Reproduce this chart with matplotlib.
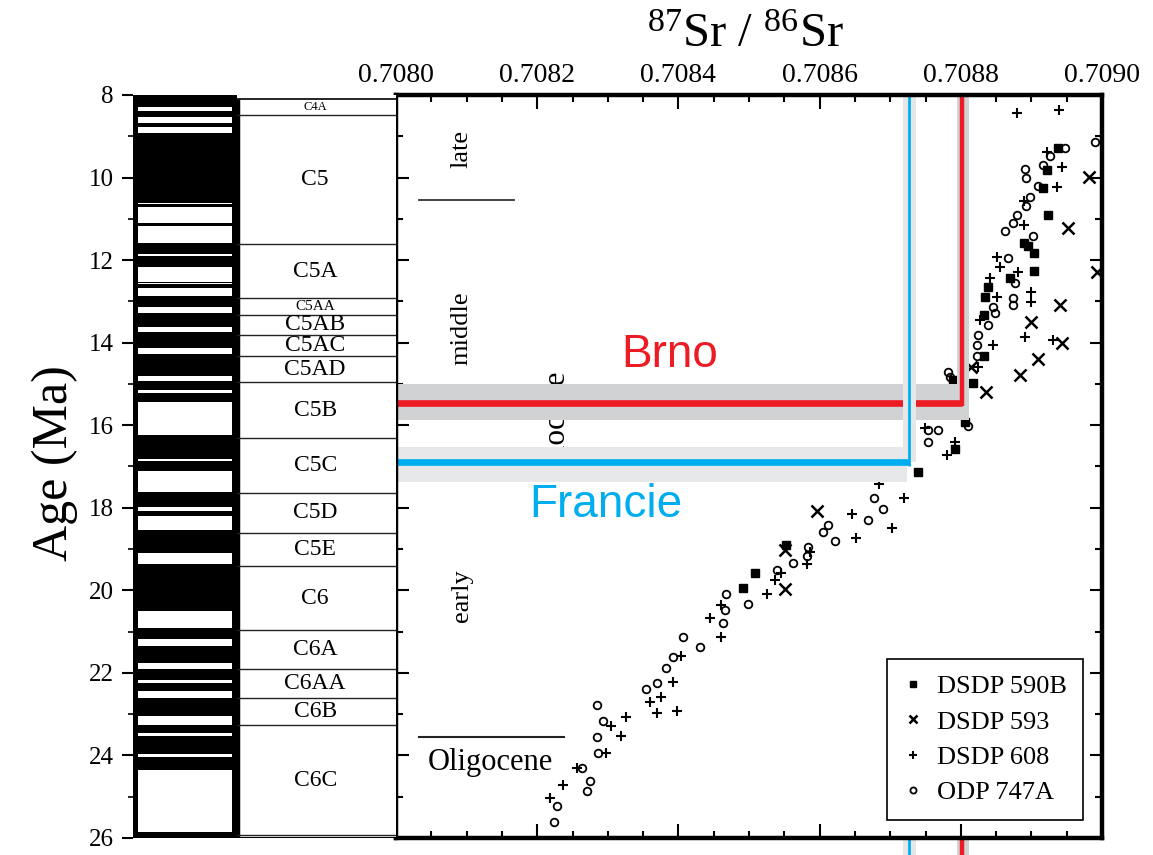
import matplotlib
matplotlib.use("Agg")
import matplotlib.pyplot as plt
from matplotlib.patches import Rectangle
from matplotlib.ticker import MultipleLocator, FormatStrFormatter

SERIF = "Liberation Serif"
SANS = "Liberation Sans"
plt.rcParams["font.family"] = [SERIF, "DejaVu Serif"]
plt.rcParams["mathtext.fontset"] = "custom"
plt.rcParams["mathtext.rm"] = SERIF

# ---- seawater 87Sr/86Sr records (ratio, age in Ma) ----
sr_590b = [0.708938, 0.708922, 0.708917, 0.708924, 0.708889, 0.708895, 0.708904,
           0.708904, 0.708870, 0.708838, 0.708834, 0.708833, 0.708833, 0.708817,
           0.708789, 0.708806, 0.708792, 0.708740, 0.708553, 0.708509, 0.708492]
age_590b = [9.29, 9.82, 10.26, 10.91, 11.59, 11.67, 11.83, 12.26, 12.44, 12.64,
            12.89, 13.33, 14.32, 14.98, 14.90, 15.91, 16.58, 17.13, 18.90, 19.57, 19.95]

sr_593 = [0.708982, 0.708952, 0.708993, 0.708941, 0.708900, 0.708944, 0.708910,
          0.708884, 0.708815, 0.708836, 0.708596, 0.708551, 0.708551]
age_593 = [9.98, 11.23, 12.28, 13.09, 13.49, 14.02, 14.40, 14.78, 14.58, 15.19,
           18.09, 19.02, 19.97]

sr_608 = [0.708879, 0.708939, 0.708922, 0.708944, 0.708936, 0.708889, 0.708889,
          0.708851, 0.708856, 0.708881, 0.708841, 0.708900, 0.708900, 0.708851,
          0.708827, 0.708891, 0.708931, 0.708845, 0.708825, 0.708749, 0.708792,
          0.708780, 0.708719, 0.708684, 0.708646, 0.708702, 0.708652, 0.708586,
          0.708582, 0.708546, 0.708537, 0.708525, 0.708461, 0.708445, 0.708460,
          0.708404, 0.708393, 0.708375, 0.708360, 0.708369, 0.708398, 0.708304,
          0.708326, 0.708319, 0.708298, 0.708256, 0.708237, 0.708218]
age_608 = [8.44, 8.36, 9.37, 9.75, 10.22, 10.58, 11.15, 11.92, 12.16, 12.30, 12.44,
           12.77, 13.01, 12.89, 13.45, 13.87, 13.94, 14.06, 14.59, 16.07, 16.40,
           16.72, 17.77, 17.42, 18.16, 18.50, 18.74, 19.06, 19.36, 19.59, 19.75,
           20.09, 20.36, 20.68, 21.12, 21.59, 22.21, 22.59, 22.71, 22.96, 22.92,
           23.29, 23.08, 23.53, 23.93, 24.31, 24.72, 25.04]

sr_747a = [0.708990, 0.708948, 0.708926, 0.708916, 0.708891, 0.708893, 0.708910,
           0.708898, 0.708893, 0.708879, 0.708874, 0.708863, 0.708902, 0.708867,
           0.708877, 0.708874, 0.708874, 0.708848, 0.708846, 0.708839, 0.708825,
           0.708823, 0.708823, 0.708782, 0.708785, 0.708810, 0.708754, 0.708768,
           0.708753, 0.708677, 0.708690, 0.708669, 0.708612, 0.708605, 0.708622,
           0.708584, 0.708582, 0.708563, 0.708539, 0.708499, 0.708468, 0.708466,
           0.708463, 0.708431, 0.708407, 0.708393, 0.708383, 0.708369, 0.708354,
           0.708284, 0.708293, 0.708284, 0.708286, 0.708263, 0.708275, 0.708270,
           0.708228, 0.708224]
age_747a = [9.13, 9.29, 9.48, 9.70, 9.80, 10.02, 10.20, 10.46, 10.69, 10.91, 11.11,
            11.29, 11.42, 11.96, 12.56, 12.92, 13.09, 13.29, 13.13, 13.57, 13.81,
            14.06, 14.32, 14.70, 14.83, 16.02, 16.12, 16.12, 16.40, 17.77, 18.04,
            18.30, 18.42, 18.58, 18.80, 18.94, 19.18, 19.33, 19.51, 20.34, 20.09,
            20.48, 20.80, 21.38, 21.12, 21.62, 21.89, 22.25, 22.39, 22.78, 23.16,
            23.55, 23.93, 24.31, 24.63, 24.85, 25.22, 25.62]

# ---- sample sites: ratio, age, age band ----
brno_sr, brno_age, brno_band = 0.708802, 15.45, (15.00, 15.87)
brno_sr_band = (0.708795, 0.708811)
francie_sr, francie_age, francie_band = 0.708727, 16.90, (16.52, 17.37)
francie_sr_band = (0.708718, 0.708736)

# ---- magnetic polarity (reversed intervals, Ma) and chrons ----
rev_top = [8.28, 8.53, 8.77, 10.61, 10.72, 11.17, 11.85, 12.16, 12.55, 12.68, 13.13,
           13.61, 14.14, 14.81, 15.15, 15.43, 16.82, 17.12, 17.97, 18.21, 19.10,
           20.51, 21.19, 21.75, 22.17, 22.45, 23.04, 23.46, 23.96, 24.35]
rev_base = [8.38, 8.69, 8.93, 10.64, 11.11, 11.59, 11.90, 12.52, 12.58, 12.88, 13.29,
            13.75, 14.27, 14.94, 15.23, 16.24, 16.87, 17.61, 18.07, 18.55, 19.36,
            20.92, 21.36, 21.91, 22.25, 22.60, 23.26, 23.54, 24.04, 25.85]
chron_names = ["C4A", "C5", "C5A", "C5AA", "C5AB", "C5AC", "C5AD", "C5B", "C5C",
               "C5D", "C5E", "C6", "C6A", "C6AA", "C6B", "C6C"]
chron_bounds = [8.10, 8.48, 11.62, 12.93, 13.33, 13.81, 14.32, 14.96, 16.32, 17.65,
                18.60, 19.42, 20.96, 21.91, 22.60, 23.27, 25.93]
chron_sizes = [9, 17, 17, 11, 17, 17, 17, 17, 17, 17, 17, 17, 17, 17, 17, 17]

x_ticks = [0.7080, 0.7082, 0.7084, 0.7086, 0.7088, 0.7090]
age_min, age_max = 8, 26

RED = "#ed1c24"
BLUE = "#00aeef"
GRAY_BRNO = "#d1d2d4"
GRAY_FRANCIE = "#e6e7e8"

W, H = 1153, 855
fig = plt.figure(figsize=(W / 100, H / 100), dpi=100)


def box(l, t, r, b):
    return [l / W, 1 - b / H, (r - l) / W, (b - t) / H]


ax = fig.add_axes(box(396, 95, 1102, 838))
axc = fig.add_axes(box(133, 95, 396, 838))

# ---------------- stratigraphic columns ----------------
axc.set_xlim(0, 1)
axc.set_ylim(age_max, age_min)
for s in axc.spines.values():
    s.set_visible(False)
axc.set_xticks([])
axc.yaxis.set_major_locator(MultipleLocator(2))
axc.yaxis.set_minor_locator(MultipleLocator(1))
axc.tick_params(axis="y", which="major", direction="out", length=8, width=1.5,
                labelsize=18, pad=6)
axc.tick_params(axis="y", which="minor", direction="out", length=3.5, width=1.2)

pol_right = 0.395
axc.add_patch(Rectangle((0, age_min), pol_right, age_max - age_min,
                        fc="black", ec="none", zorder=1))
for t, b in zip(rev_top, rev_base):
    axc.add_patch(Rectangle((0.019, t), 0.357, b - t, fc="white", ec="none", zorder=2))

axc.add_patch(Rectangle((pol_right, chron_bounds[0]), 1 - pol_right,
                        age_max - chron_bounds[0], fc="white", ec="none", zorder=1))
axc.plot([pol_right + 0.006] * 2, [chron_bounds[0], age_max], color="black", lw=2.5,
         zorder=3, solid_capstyle="butt")
axc.plot([pol_right, 1], [chron_bounds[0]] * 2, color="black", lw=1.2, zorder=3)
for yb in chron_bounds[1:]:
    axc.plot([pol_right, 1], [yb, yb], color="#222222", lw=1.0, zorder=3)
axc.plot([pol_right, 1], [age_max, age_max], color="black", lw=1.5, zorder=3)
xc = (pol_right + 1) / 2 - 0.005
for name, t, b, fs in zip(chron_names, chron_bounds[:-1], chron_bounds[1:], chron_sizes):
    axc.text(xc, (t + b) / 2, name, ha="center", va="center", fontsize=fs, zorder=4)

# ---------------- Sr isotope panel ----------------
ax.set_xlim(x_ticks[0], x_ticks[-1])
ax.set_ylim(age_max, age_min)

ax.plot(sr_590b, age_590b, ls="none", marker="s", ms=6, color="black",
        label="DSDP 590B", zorder=2)
ax.plot(sr_593, age_593, ls="none", marker="x", ms=8, mew=1.8, color="black",
        label="DSDP 593", zorder=2)
ax.plot(sr_608, age_608, ls="none", marker="+", ms=7, mew=1.5, color="black",
        label="DSDP 608", zorder=2)
ax.plot(sr_747a, age_747a, ls="none", marker="o", ms=5.5, mew=1.3, mfc="none",
        mec="black", label="ODP 747A", zorder=2)

# epoch annotations
ax.text(0.708093, 9.31, "late", rotation=90, ha="center", va="center", fontsize=19, zorder=1)
ax.text(0.708093, 13.64, "middle", rotation=90, ha="center", va="center", fontsize=19, zorder=1)
ax.text(0.708093, 20.14, "early", rotation=90, ha="center", va="center", fontsize=19, zorder=1)
ax.plot([0.708033, 0.708167], [10.54, 10.54], color="#333333", lw=1.3, zorder=1)
ax.plot([0.708033, 0.708238], [23.56, 23.56], color="#222222", lw=1.5, zorder=1)
ax.text(0.708133, 24.18, "Oligocene", ha="center", va="center", fontsize=22, zorder=1)
ax.text(0.708228, 15.99, "Miocene", rotation=90, ha="center", va="center",
        fontsize=22.5, zorder=1)

# Brno: band + line
ax.add_patch(Rectangle((x_ticks[0], brno_band[0]), brno_sr_band[1] - x_ticks[0],
                       brno_band[1] - brno_band[0], fc=GRAY_BRNO, ec="none", zorder=5))
ax.add_patch(Rectangle((brno_sr_band[0], age_min), brno_sr_band[1] - brno_sr_band[0],
                       brno_band[0] - age_min, fc=GRAY_BRNO, ec="none", zorder=5))
ax.plot([x_ticks[0], brno_sr], [brno_age, brno_age], color=RED, lw=4.8, zorder=6,
        solid_capstyle="butt")
ax.plot([brno_sr, brno_sr], [brno_age + 0.08, age_min], color=RED, lw=3.2, zorder=6,
        solid_capstyle="butt")

# Francie: band + line
ax.add_patch(Rectangle((x_ticks[0], francie_band[0]), 0.708724 - x_ticks[0],
                       francie_band[1] - francie_band[0], fc=GRAY_FRANCIE, ec="none",
                       zorder=7))
ax.add_patch(Rectangle((francie_sr_band[0], age_min),
                       francie_sr_band[1] - francie_sr_band[0],
                       francie_age - age_min, fc=GRAY_FRANCIE, ec="none", zorder=7))
ax.plot([x_ticks[0], francie_sr], [francie_age, francie_age], color=BLUE, lw=4.8,
        zorder=8, solid_capstyle="butt")
ax.plot([francie_sr, francie_sr], [francie_age + 0.08, age_min], color=BLUE, lw=2.0,
        zorder=8, solid_capstyle="butt")

# stubs of the vertical markers below the frame
stub = 0.45
ax.add_patch(Rectangle((brno_sr_band[0], age_max), brno_sr_band[1] - brno_sr_band[0],
                       stub, fc=GRAY_BRNO, ec="none", zorder=5, clip_on=False))
ax.plot([brno_sr, brno_sr], [age_max, age_max + stub], color=RED, lw=3.2, zorder=6,
        clip_on=False, solid_capstyle="butt")
ax.add_patch(Rectangle((francie_sr_band[0], age_max),
                       francie_sr_band[1] - francie_sr_band[0], stub,
                       fc=GRAY_FRANCIE, ec="none", zorder=7, clip_on=False))
ax.plot([francie_sr, francie_sr], [age_max, age_max + stub], color=BLUE, lw=2.0,
        zorder=8, clip_on=False, solid_capstyle="butt")

ax.text(0.708388, 14.30, "Brno", color=RED, family=SANS, fontsize=33,
        ha="center", va="center", zorder=9)
ax.text(0.708297, 17.93, "Francie", color=BLUE, family=SANS, fontsize=33,
        ha="center", va="center", zorder=9)

# axes styling
for s in ax.spines.values():
    s.set_linewidth(3.2)
    s.set_zorder(20)
ax.set_xticks(x_ticks)
ax.xaxis.set_major_formatter(FormatStrFormatter("%.4f"))
ax.xaxis.set_minor_locator(MultipleLocator(0.00005))
ax.yaxis.set_major_locator(MultipleLocator(2))
ax.yaxis.set_minor_locator(MultipleLocator(1))
ax.tick_params(axis="x", which="both", direction="in", top=True, bottom=True,
               labeltop=True, labelbottom=False, width=1.5)
ax.tick_params(axis="x", which="major", length=10, labelsize=20, pad=5)
ax.tick_params(axis="x", which="minor", length=5)
ax.tick_params(axis="y", which="both", direction="in", left=True, right=True,
               labelleft=False, width=1.5)
ax.tick_params(axis="y", which="major", length=9)
ax.tick_params(axis="y", which="minor", length=5)

leg = ax.legend(loc="lower right", bbox_to_anchor=(0.973, 0.024), borderaxespad=0,
                frameon=True, fancybox=False, edgecolor="black", framealpha=1,
                fontsize=19, handlelength=0.8, handletextpad=0.5, labelspacing=0.45,
                borderpad=0.6, markerscale=0.8)
leg.get_frame().set_linewidth(1.2)
leg.set_zorder(30)

fig.text(745 / W, 1 - 35 / H, r"$\mathregular{^{87}}$Sr / $\mathregular{^{86}}$Sr",
         ha="center", va="center", fontsize=35)
fig.text(55 / W, 1 - 463 / H, "Age (Ma)", rotation=90, ha="center", va="center",
         fontsize=36)

fig.savefig("out.png", dpi=100)
